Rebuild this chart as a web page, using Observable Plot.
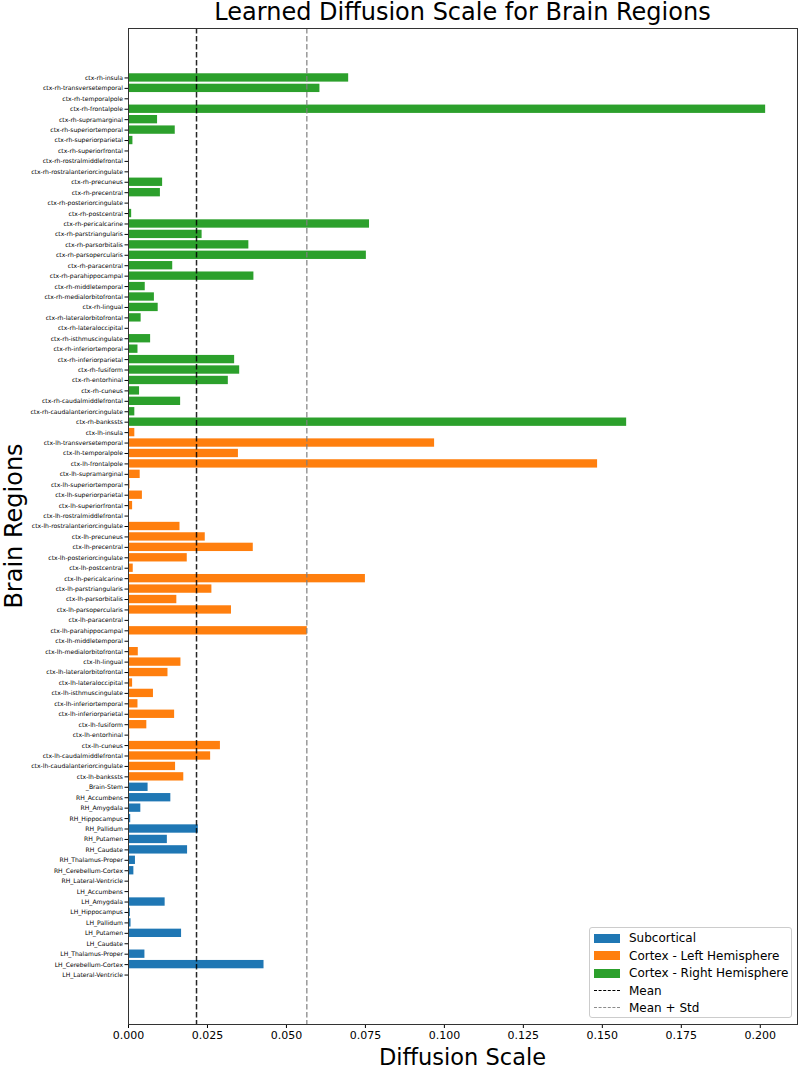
<!DOCTYPE html>
<html>
<head>
<meta charset="utf-8">
<script src="https://cdn.jsdelivr.net/npm/d3@7"></script>
<script src="https://cdn.jsdelivr.net/npm/@observablehq/plot@0.6"></script>
<style>
  body { margin: 0; background: #fff; font-family: "DejaVu Sans", sans-serif; }
  #fig { position: relative; width: 800px; height: 1070px; }
  #fig svg { position: absolute; left: 0; top: 0; }
  .abs { position: absolute; white-space: nowrap; color: #000; }
  #legend { position: absolute; left: 589px; top: 927px; width: 203px; height: 91px;
            border: 1px solid #cccccc; border-radius: 3px; background: rgba(255,255,255,0.85); box-sizing: border-box; }
  .row { position: absolute; left: 0; width: 200px; height: 18px; font-size: 12px; line-height: 18px; white-space: nowrap; }
  .sw { position: absolute; left: 4px; top: 4.5px; width: 26px; height: 9px; }
  .ln { position: absolute; left: 4px; top: 8px; width: 26px; height: 0; border-top-width: 1.5px; border-top-style: dashed; }
  .lt { position: absolute; left: 39px; top: 0; white-space: nowrap; color: #000; }
</style>
</head>
<body>
<div id="fig"></div>
<script>
const regions = [
  "ctx-rh-insula","ctx-rh-transversetemporal","ctx-rh-temporalpole","ctx-rh-frontalpole","ctx-rh-supramarginal",
  "ctx-rh-superiortemporal","ctx-rh-superiorparietal","ctx-rh-superiorfrontal","ctx-rh-rostralmiddlefrontal",
  "ctx-rh-rostralanteriorcingulate","ctx-rh-precuneus","ctx-rh-precentral","ctx-rh-posteriorcingulate",
  "ctx-rh-postcentral","ctx-rh-pericalcarine","ctx-rh-parstriangularis","ctx-rh-parsorbitalis",
  "ctx-rh-parsopercularis","ctx-rh-paracentral","ctx-rh-parahippocampal","ctx-rh-middletemporal",
  "ctx-rh-medialorbitofrontal","ctx-rh-lingual","ctx-rh-lateralorbitofrontal","ctx-rh-lateraloccipital",
  "ctx-rh-isthmuscingulate","ctx-rh-inferiortemporal","ctx-rh-inferiorparietal","ctx-rh-fusiform",
  "ctx-rh-entorhinal","ctx-rh-cuneus","ctx-rh-caudalmiddlefrontal","ctx-rh-caudalanteriorcingulate","ctx-rh-bankssts",
  "ctx-lh-insula","ctx-lh-transversetemporal","ctx-lh-temporalpole","ctx-lh-frontalpole","ctx-lh-supramarginal",
  "ctx-lh-superiortemporal","ctx-lh-superiorparietal","ctx-lh-superiorfrontal","ctx-lh-rostralmiddlefrontal",
  "ctx-lh-rostralanteriorcingulate","ctx-lh-precuneus","ctx-lh-precentral","ctx-lh-posteriorcingulate",
  "ctx-lh-postcentral","ctx-lh-pericalcarine","ctx-lh-parstriangularis","ctx-lh-parsorbitalis",
  "ctx-lh-parsopercularis","ctx-lh-paracentral","ctx-lh-parahippocampal","ctx-lh-middletemporal",
  "ctx-lh-medialorbitofrontal","ctx-lh-lingual","ctx-lh-lateralorbitofrontal","ctx-lh-lateraloccipital",
  "ctx-lh-isthmuscingulate","ctx-lh-inferiortemporal","ctx-lh-inferiorparietal","ctx-lh-fusiform",
  "ctx-lh-entorhinal","ctx-lh-cuneus","ctx-lh-caudalmiddlefrontal","ctx-lh-caudalanteriorcingulate","ctx-lh-bankssts",
  "_Brain-Stem","RH_Accumbens","RH_Amygdala","RH_Hippocampus","RH_Pallidum","RH_Putamen","RH_Caudate",
  "RH_Thalamus-Proper","RH_Cerebellum-Cortex","RH_Lateral-Ventricle","LH_Accumbens","LH_Amygdala",
  "LH_Hippocampus","LH_Pallidum","LH_Putamen","LH_Caudate","LH_Thalamus-Proper","LH_Cerebellum-Cortex",
  "LH_Lateral-Ventricle"
];
const values = [
  0.0697,0.0606,0.0000,0.2017,0.0092,0.0148,0.0014,0.0002,0.0000,0.0000,0.0108,0.0101,0.0000,0.0010,
  0.0763,0.0233,0.0381,0.0753,0.0140,0.0397,0.0053,0.0082,0.0094,0.0040,0.0000,0.0070,0.0030,0.0336,
  0.0352,0.0316,0.0035,0.0165,0.0020,0.1577,
  0.0020,0.0969,0.0348,0.1485,0.0037,0.0005,0.0044,0.0013,0.0000,0.0163,0.0243,0.0395,0.0186,0.0015,
  0.0750,0.0264,0.0153,0.0326,0.0000,0.0566,0.0000,0.0031,0.0166,0.0125,0.0013,0.0079,0.0030,0.0146,
  0.0058,0.0004,0.0291,0.0260,0.0149,0.0175,
  0.0062,0.0134,0.0039,0.0007,0.0221,0.0123,0.0187,0.0022,0.0017,0.0000,0.0000,0.0116,0.0006,0.0008,
  0.0168,0.0000,0.0052,0.0429,0.0001
];
const groupNames = ["Subcortical", "Cortex - Left Hemisphere", "Cortex - Right Hemisphere"];
const groupColors = ["#1f77b4", "#ff7f0e", "#2ca02c"];
const xTicks = [0, 0.025, 0.05, 0.075, 0.1, 0.125, 0.15, 0.175, 0.2];
const titleText = "Learned Diffusion Scale for Brain Regions";
const xLabel = "Diffusion Scale";
const yLabel = "Brain Regions";

const groupOf = r => r.startsWith("ctx-rh") ? groupNames[2] : r.startsWith("ctx-lh") ? groupNames[1] : groupNames[0];
const data = regions.map((r, i) => ({region: r, value: values[i], group: groupOf(r)}));
const mean = d3.mean(values);
const std = Math.sqrt(d3.mean(values, v => (v - mean) ** 2));

const mL = 128, mR = 3, mT = 28, mB = 46;
const chart = Plot.plot({
  width: 800, height: 1070,
  marginLeft: mL, marginRight: mR, marginTop: mT, marginBottom: mB,
  style: {fontFamily: "DejaVu Sans", background: "white", color: "black"},
  x: {domain: [0, d3.max(values) * 1.05], ticks: xTicks, tickFormat: d3.format(".3f"), label: null},
  y: {domain: regions, paddingInner: 0.2, paddingOuter: 4.34, label: null},
  color: {domain: groupNames, range: groupColors},
  marks: [
    Plot.barX(data, {x: "value", y: "region", fill: "group"}),
    Plot.ruleX([mean], {stroke: "#000", strokeOpacity: 0.85, strokeWidth: 1.5, strokeDasharray: "5.5,2.5"}),
    Plot.ruleX([mean + std], {stroke: "#808080", strokeOpacity: 0.8, strokeWidth: 1.5, strokeDasharray: "5.5,2.5"}),
    Plot.axisX({ticks: xTicks, tickFormat: d3.format(".3f"), fontSize: 11, tickSize: 4, tickPadding: 3, label: null}),
    Plot.axisY({fontSize: 6.1, tickSize: 3.5, tickPadding: 2, label: null}),
    Plot.frame({stroke: "#333", strokeWidth: 1})
  ]
});

const fig = document.getElementById("fig");
fig.appendChild(chart);

function addText(txt, css) {
  const d = document.createElement("div");
  d.className = "abs";
  d.textContent = txt;
  Object.assign(d.style, css);
  fig.appendChild(d);
  return d;
}
const cx = mL + (800 - mL - mR) / 2;
addText(titleText, {fontSize: "24px", top: "-2px", left: cx + "px", transform: "translateX(-50%)"});
addText(xLabel, {fontSize: "22.5px", top: "1044px", left: cx + "px", transform: "translateX(-50%)"});
const cy = mT + (1070 - mT - mB) / 2;
addText(yLabel, {fontSize: "24px", left: "14px", top: cy + "px", transform: "translate(-50%,-50%) rotate(-90deg)"});

const legend = document.createElement("div");
legend.id = "legend";
const entries = [
  {label: groupNames[0], type: "patch", color: groupColors[0]},
  {label: groupNames[1], type: "patch", color: groupColors[1]},
  {label: groupNames[2], type: "patch", color: groupColors[2]},
  {label: "Mean", type: "line", color: "#000"},
  {label: "Mean + Std", type: "line", color: "#8c8c8c"}
];
entries.forEach((e, i) => {
  const row = document.createElement("div");
  row.className = "row";
  row.style.top = (1 + i * 17.6) + "px";
  const s = document.createElement("div");
  if (e.type === "patch") { s.className = "sw"; s.style.background = e.color; }
  else { s.className = "ln"; s.style.borderTopColor = e.color; }
  row.appendChild(s);
  const l = document.createElement("div");
  l.className = "lt";
  l.textContent = e.label;
  row.appendChild(l);
  legend.appendChild(row);
});
fig.appendChild(legend);
</script>
</body>
</html>
